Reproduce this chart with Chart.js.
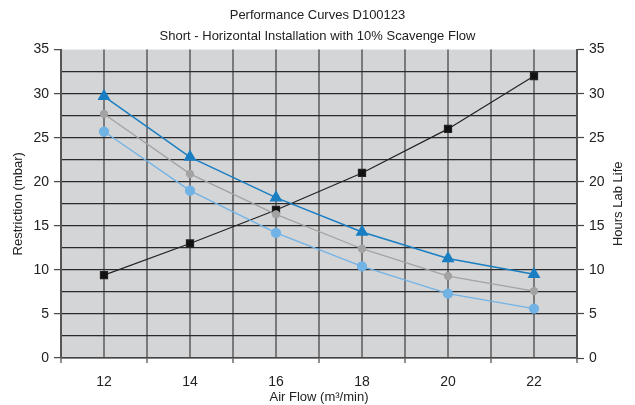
<!DOCTYPE html>
<html>
<head>
<meta charset="utf-8">
<script src="https://cdn.jsdelivr.net/npm/chart.js@4/dist/chart.umd.min.js"></script>
<style>
  html, body { margin: 0; padding: 0; background: #fff; }
  #wrap { width: 635px; height: 405px; }
</style>
</head>
<body>
<div id="wrap"><canvas id="myChart"></canvas></div>
<script>
// values
const airFlow = [12, 14, 16, 18, 20, 22];
const labLife = [9.4, 13.0, 16.8, 21.0, 26.0, 32.0];        // black squares, hours
const restrictionHigh = [29.7, 22.8, 18.2, 14.3, 11.3, 9.5]; // blue triangles
const restrictionMid = [27.7, 20.9, 16.3, 12.4, 9.3, 7.6];   // grey
const restrictionLow = [25.7, 19.0, 14.2, 10.4, 7.3, 5.6];   // light blue
const titleLines = ["Performance Curves D100123", "Short - Horizontal Installation with 10% Scavenge Flow"];

const narrow = "'Liberation Sans Narrow', 'Liberation Sans', Arial, sans-serif";
const regular = "'Liberation Sans', Arial, sans-serif";

function points(values) {
    return airFlow.map(function (x, i) { return { x: x, y: values[i] }; });
}

// grey plot background
const plotBackground = {
    id: "plotBackground",
    beforeDraw(chart) {
        const a = chart.chartArea;
        const ctx = chart.ctx;
        ctx.save();
        ctx.fillStyle = "#d4d5d7";
        ctx.fillRect(a.left, a.top, a.right - a.left, a.bottom - a.top);
        ctx.restore();
    }
};

// right axis title reads bottom to top, like the left one
const rightTitle = {
    id: "rightTitle",
    afterDraw(chart) {
        const a = chart.chartArea;
        const ctx = chart.ctx;
        ctx.save();
        ctx.translate(618, (a.top + a.bottom) / 2);
        ctx.rotate(-Math.PI / 2);
        ctx.font = "13px " + narrow;
        ctx.fillStyle = "#222";
        ctx.textAlign = "center";
        ctx.textBaseline = "middle";
        ctx.fillText("Hours Lab Life", 0, 0);
        ctx.restore();
    }
};

const ctx = document.getElementById("myChart").getContext("2d");
const chart = new Chart(ctx, {
    type: "line",
    data: {
        datasets: [
            {
                label: "Hours Lab Life",
                data: points(labLife),
                yAxisID: "y1",
                borderColor: "#222222",
                backgroundColor: "#111111",
                borderWidth: 1.2,
                pointStyle: "rect",
                pointRadius: 5,
                order: 4
            },
            {
                label: "Restriction A",
                data: points(restrictionHigh),
                borderColor: "#1a7ec2",
                backgroundColor: "#1a7ec2",
                borderWidth: 1.5,
                pointStyle: "triangle",
                pointRadius: 6,
                order: 1
            },
            {
                label: "Restriction B",
                data: points(restrictionMid),
                borderColor: "#a3a3a3",
                backgroundColor: "#a3a3a3",
                borderWidth: 1.3,
                pointStyle: "circle",
                pointRadius: 3.5,
                order: 2
            },
            {
                label: "Restriction C",
                data: points(restrictionLow),
                borderColor: "#72b3e6",
                backgroundColor: "#72b3e6",
                borderWidth: 1.3,
                pointStyle: "circle",
                pointRadius: 4.5,
                order: 3
            }
        ]
    },
    options: {
        responsive: true,
        maintainAspectRatio: false,
        animation: false,
        layout: { padding: { left: 0, right: 0, top: 0, bottom: 0 } },
        plugins: {
            legend: { display: false },
            tooltip: { enabled: false },
            title: {
                display: true,
                text: titleLines,
                color: "#222",
                font: { family: narrow, size: 13, weight: "normal", lineHeight: 1.6 },
                padding: { top: 5, bottom: 3 }
            }
        },
        scales: {
            x: {
                type: "linear",
                min: 11,
                max: 23,
                afterFit: function (scale) { scale.height = 47; },
                ticks: {
                    stepSize: 1,
                    autoSkip: false,
                    maxRotation: 0,
                    color: "#222",
                    padding: 11,
                    font: { family: regular, size: 14 },
                    callback: function (value) { return value % 2 === 0 ? value : ""; }
                },
                grid: {
                    color: "#7a7a7a",
                    lineWidth: 2,
                    tickLength: 5,
                    tickColor: function (c) { return c.tick && c.tick.value % 2 !== 0 ? "#444" : "transparent"; },
                    tickWidth: 1.2
                },
                border: { color: "#444", width: 1.5 },
                title: {
                    display: true,
                    text: "Air Flow (m³/min)",
                    color: "#222",
                    font: { family: narrow, size: 13 },
                    padding: { top: 0, bottom: 0 }
                }
            },
            y: {
                position: "left",
                min: 0,
                max: 35,
                afterFit: function (scale) { scale.width = 61; },
                ticks: {
                    stepSize: 2.5,
                    autoSkip: false,
                    color: "#222",
                    padding: 5,
                    font: { family: regular, size: 14 },
                    callback: function (value) { return value % 5 === 0 ? value : ""; }
                },
                grid: {
                    color: function (c) { return c.tick && c.tick.value === 35 ? "transparent" : "#2a2a2a"; },
                    lineWidth: 1.3,
                    tickLength: 7,
                    tickColor: function (c) { return c.tick && c.tick.value % 5 === 0 ? "#444" : "transparent"; },
                    tickWidth: 1.2
                },
                border: { color: "#555", width: 2 },
                title: {
                    display: true,
                    text: "Restriction (mbar)",
                    color: "#222",
                    font: { family: narrow, size: 13 },
                    padding: { top: 11, bottom: 0 }
                }
            },
            y1: {
                position: "right",
                min: 0,
                max: 35,
                afterFit: function (scale) { scale.width = 58; },
                ticks: {
                    stepSize: 2.5,
                    autoSkip: false,
                    color: "#222",
                    padding: 5,
                    font: { family: regular, size: 14 },
                    callback: function (value) { return value % 5 === 0 ? value : ""; }
                },
                grid: {
                    drawOnChartArea: false,
                    tickLength: 7,
                    tickColor: function (c) { return c.tick && c.tick.value % 5 === 0 ? "#444" : "transparent"; },
                    tickWidth: 1.2
                },
                border: { color: "#555", width: 2 }
            }
        }
    },
    plugins: [plotBackground, rightTitle]
});
</script>
</body>
</html>
